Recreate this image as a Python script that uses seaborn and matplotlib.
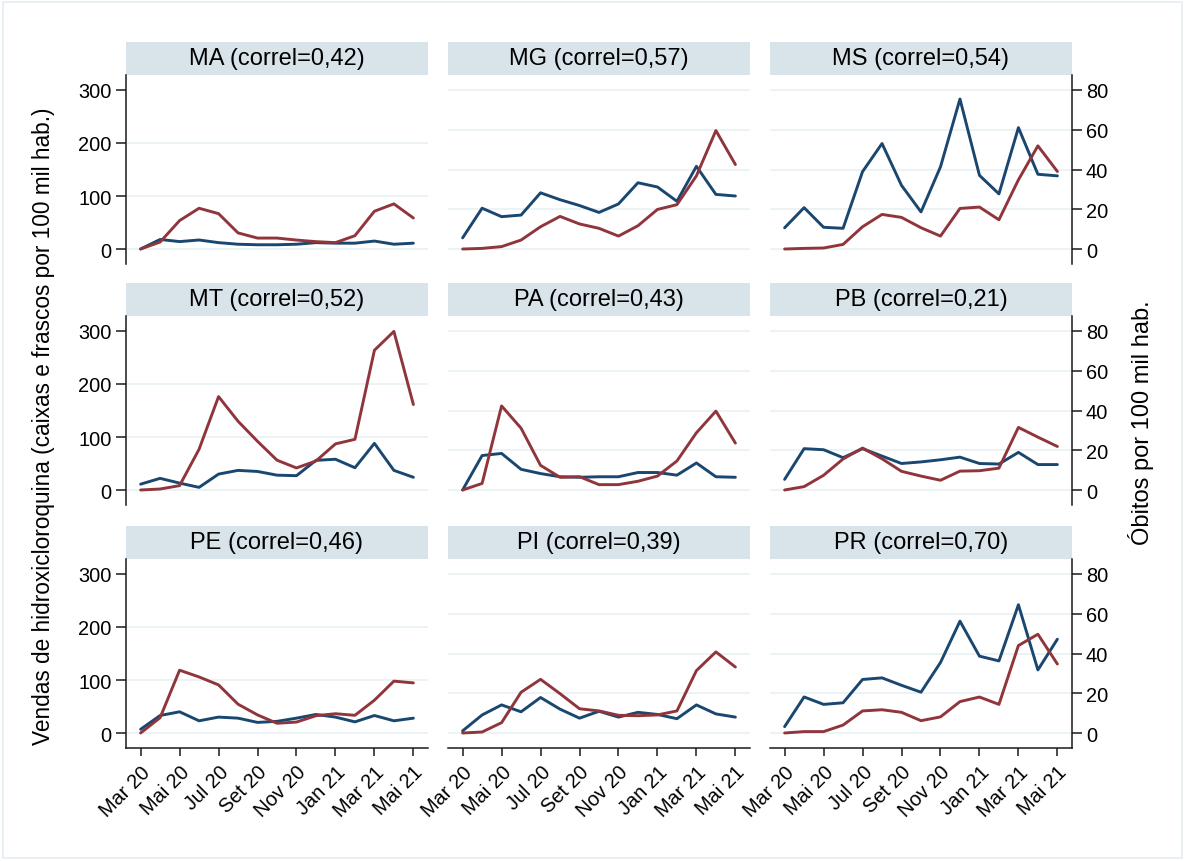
import numpy as np
import pandas as pd
import matplotlib
matplotlib.use("Agg")
import matplotlib.pyplot as plt
import seaborn as sns
from matplotlib.patches import Rectangle

# meses (Mar 20 - Mai 21)
meses = ["Mar 20", "Abr 20", "Mai 20", "Jun 20", "Jul 20", "Ago 20", "Set 20", "Out 20",
         "Nov 20", "Dez 20", "Jan 21", "Fev 21", "Mar 21", "Abr 21", "Mai 21"]
estados = ["MA", "MG", "MS", "MT", "PA", "PB", "PE", "PI", "PR"]
correl = ["0,42", "0,57", "0,54", "0,52", "0,43", "0,21", "0,46", "0,39", "0,70"]

# vendas de hidroxicloroquina (caixas e frascos por 100 mil hab.)
vendas_MA = [0, 18, 14, 17, 12, 9, 8, 8, 9, 12, 11, 11, 15, 9, 11]
vendas_MG = [21, 77, 61, 64, 106, 93, 82, 69, 85, 125, 117, 90, 156, 103, 100]
vendas_MS = [40, 78, 41, 39, 146, 199, 120, 70, 155, 283, 139, 104, 229, 141, 138]
vendas_MT = [11, 22, 13, 5, 30, 37, 35, 28, 27, 56, 58, 42, 88, 37, 24]
vendas_PA = [0, 65, 69, 39, 31, 25, 24, 25, 25, 33, 33, 28, 51, 25, 24]
vendas_PB = [20, 78, 76, 61, 78, 64, 50, 53, 57, 62, 50, 49, 71, 48, 48]
vendas_PE = [7, 33, 40, 23, 30, 28, 20, 22, 28, 35, 30, 21, 33, 23, 28]
vendas_PI = [4, 34, 53, 40, 67, 45, 28, 41, 30, 39, 35, 27, 53, 36, 30]
vendas_PR = [12, 68, 54, 57, 101, 104, 90, 77, 133, 211, 145, 136, 242, 119, 177]

# óbitos por 100 mil hab.
obitos_MA = [0, 3.5, 14.3, 20.5, 17.8, 8.1, 5.5, 5.5, 4.5, 3.7, 3.2, 6.7, 19.0, 22.7, 15.6]
obitos_MG = [0, 0.3, 1.2, 4.5, 11.2, 16.4, 12.6, 10.4, 6.5, 11.7, 19.9, 22.3, 36.8, 59.6, 42.5]
obitos_MS = [0, 0.3, 0.5, 2.3, 11.2, 17.4, 15.9, 10.7, 6.5, 20.4, 21.1, 14.7, 34.8, 51.9, 39.0]
obitos_MT = [0, 0.5, 2.2, 20.5, 47.0, 34.6, 24.5, 15.0, 11.1, 14.6, 23.2, 25.5, 70.3, 79.8, 43.0]
obitos_PA = [0, 3.3, 42.3, 31.1, 12.4, 6.4, 6.7, 2.7, 2.7, 4.4, 7.0, 14.6, 28.8, 39.7, 23.6]
obitos_PB = [0, 1.7, 7.4, 15.6, 21.1, 15.7, 9.4, 7.0, 4.9, 9.5, 9.7, 11.0, 31.5, 26.6, 21.9]
obitos_PE = [0, 7.7, 31.6, 28.2, 24.2, 14.5, 9.1, 4.9, 5.5, 8.7, 9.7, 8.9, 16.5, 26.1, 25.2]
obitos_PI = [0, 0.5, 5.2, 20.5, 27.0, 19.8, 12.2, 11.1, 8.9, 8.7, 9.1, 11.1, 31.4, 40.8, 33.2]
obitos_PR = [0, 0.7, 0.7, 4.0, 11.1, 11.7, 10.4, 6.2, 8.1, 15.8, 18.1, 14.4, 44.0, 49.7, 34.7]

vendas = {"MA": vendas_MA, "MG": vendas_MG, "MS": vendas_MS, "MT": vendas_MT, "PA": vendas_PA,
          "PB": vendas_PB, "PE": vendas_PE, "PI": vendas_PI, "PR": vendas_PR}
obitos = {"MA": obitos_MA, "MG": obitos_MG, "MS": obitos_MS, "MT": obitos_MT, "PA": obitos_PA,
          "PB": obitos_PB, "PE": obitos_PE, "PI": obitos_PI, "PR": obitos_PR}

rows = []
for uf in estados:
    for t, mes in enumerate(meses):
        rows.append({"uf": uf, "t": t, "mes": mes, "vendas": vendas[uf][t], "obitos": obitos[uf][t]})
df = pd.DataFrame(rows)

sns.set_theme(style="white")
plt.rcParams["font.family"] = ["Liberation Sans", "DejaVu Sans"]

azul = "#1A476F"
vermelho = "#90353B"
faixa = "#D9E4EA"
grade = "#EAF2F3"

W, H = 1185, 862
fig = plt.figure(figsize=(W / 100, H / 100), dpi=100)
fig.patches.append(Rectangle((3 / W, 3 / H), 1 - 6 / W, 1 - 6 / H, transform=fig.transFigure,
                             fill=False, edgecolor="#E4EDF1", linewidth=1.2))


def rect(l, t, w, h):
    return [l / W, 1 - (t + h) / H, w / W, h / H]


col_left = [126, 448, 770]
row_top = [76, 317, 560]
aw, ah, sh = 302, 189, 33
esc = 300 / 80  # escala óbitos -> vendas
ylim_v = (-28.3, 328.3)
ylim_o = (ylim_v[0] / esc, ylim_v[1] / esc)

for k, uf in enumerate(estados):
    r, c = divmod(k, 3)
    sub = df[df["uf"] == uf]

    # faixa do título
    sax = fig.add_axes(rect(col_left[c], row_top[r] - sh, aw, sh))
    sax.set_facecolor(faixa)
    sax.set_xticks([])
    sax.set_yticks([])
    for s in sax.spines.values():
        s.set_visible(False)
    sax.text(0.5, 0.5, f"{uf} (correl={correl[k]})", ha="center", va="center",
             fontsize=17, color="black", transform=sax.transAxes)

    ax = fig.add_axes(rect(col_left[c], row_top[r], aw, ah))
    ax.set_facecolor("white")
    if c == 0:
        for g in [0, 100, 200]:
            ax.axhline(g, color=grade, lw=1.3, zorder=0)
    else:
        for g in [0, 20, 40, 60, 80]:
            ax.axhline(g * esc, color=grade, lw=1.3, zorder=0)

    sns.lineplot(data=sub, x="t", y="vendas", ax=ax, color=azul, lw=2.1)
    ax.set_xlim(-0.75, 14.75)
    ax.set_ylim(*ylim_v)
    ax.set_xlabel("")
    ax.set_ylabel("")

    ax2 = ax.twinx()
    sns.lineplot(data=sub, x="t", y="obitos", ax=ax2, color=vermelho, lw=2.1)
    ax2.set_ylim(*ylim_o)
    ax2.set_xlim(-0.75, 14.75)
    ax2.set_xlabel("")
    ax2.set_ylabel("")

    for a in (ax, ax2):
        for s in a.spines.values():
            s.set_visible(False)
            s.set_color("#1a1a1a")
            s.set_linewidth(1.1)

    if c == 0:
        ax.spines["left"].set_visible(True)
        ax.set_yticks([0, 100, 200, 300])
        ax.tick_params(axis="y", left=True, length=7, width=1.1, color="#1a1a1a",
                       pad=3.5, labelsize=14.4, labelcolor="black")
    else:
        ax.set_yticks([])

    if c == 2:
        ax2.spines["right"].set_visible(True)
        ax2.set_yticks([0, 20, 40, 60, 80])
        ax2.tick_params(axis="y", right=True, length=7, width=1.1, color="#1a1a1a",
                        pad=3, labelsize=14.4, labelcolor="black")
    else:
        ax2.set_yticks([])

    ax2.set_xticks([])
    if r == 2:
        ax.spines["bottom"].set_visible(True)
        ax.set_xticks(range(0, 15, 2))
        ax.set_xticklabels([meses[i] for i in range(0, 15, 2)], rotation=45,
                           ha="right", rotation_mode="anchor")
        ax.tick_params(axis="x", bottom=True, length=6, width=1.1, color="#1a1a1a",
                       pad=4, labelsize=14.4, labelcolor="black")
    else:
        ax.set_xticks([])

fig.text(44 / W, 1 - 426 / H,
         "Vendas de hidroxicloroquina (caixas e frascos por 100 mil hab.)",
         rotation=90, ha="center", va="center", fontsize=16.3, color="black")
fig.text(1141 / W, 1 - 423 / H, "Óbitos por 100 mil hab.",
         rotation=90, ha="center", va="center", fontsize=17, color="black")

fig.savefig("out.png", dpi=100, facecolor="white")
